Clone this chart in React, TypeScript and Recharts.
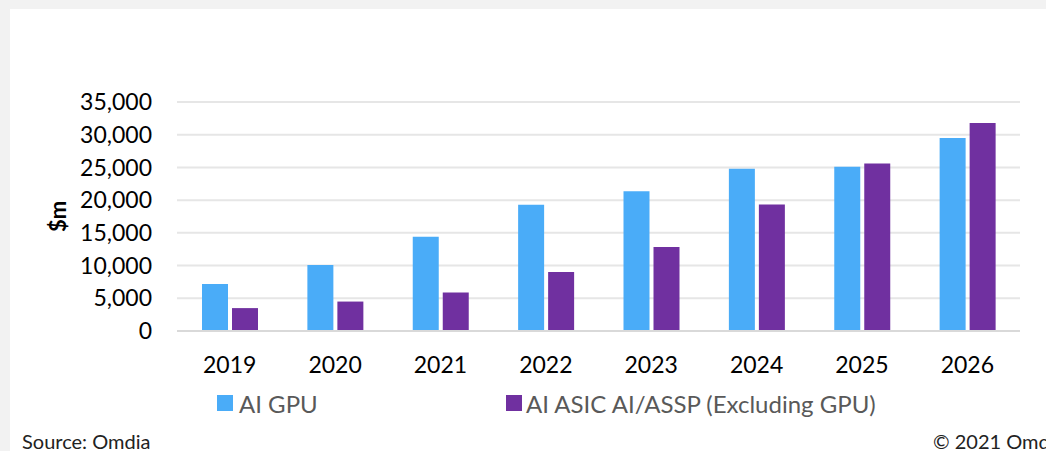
import { BarChart, Bar, XAxis, YAxis, CartesianGrid } from 'recharts'

const years = ['2019', '2020', '2021', '2022', '2023', '2024', '2025', '2026']
const aiGpu = [7200, 10100, 14400, 19300, 21350, 24800, 25100, 29500]
const aiAsic = [3500, 4500, 5900, 9000, 12850, 19350, 25600, 31800]
const yTicks = [0, 5000, 10000, 15000, 20000, 25000, 30000, 35000]
const seriesNames = ['AI GPU', 'AI ASIC AI/ASSP (Excluding GPU)']
const seriesColors = ['#4aacf8', '#7030a0']

const data = years.map((y, i) => ({ year: y, gpu: aiGpu[i], asic: aiAsic[i] }))

const font = 'Lato, "Open Sans", sans-serif'

const YLabel = (props: any) => {
  const vb = props.viewBox
  const cx = vb.x - 43
  const cy = vb.y + vb.height / 2
  return (
    <text x={cx} y={cy} transform={`rotate(-90 ${cx} ${cy})`} textAnchor='middle' dominantBaseline='central'
      style={{ fontFamily: font, fontSize: 22, fontWeight: 700, fill: '#000' }}>
      $m
    </text>
  )
}

const App = () => (
  <div style={{ position: 'fixed', left: 0, top: 0, width: 1046, height: 451, background: '#f2f2f2', overflow: 'hidden', fontFamily: font }}>
    <div style={{ position: 'absolute', left: 10, top: 9, width: 1100, height: 500, background: '#fff' }} />
    <div style={{ position: 'absolute', left: 0, top: 0 }}>
      <BarChart width={1046} height={451} data={data} margin={{ top: 102, right: 26, left: 100, bottom: 80 }}
        barSize={26} barGap={4}>
        <CartesianGrid vertical={false} stroke='#e6e6e6' strokeWidth={2} />
        <XAxis dataKey='year' height={40} tickLine={false} axisLine={{ stroke: '#d9d9d9', strokeWidth: 2 }}
          tickSize={0} tickMargin={26} tick={{ fontSize: 23, fill: '#000', fontFamily: font }} />
        <YAxis width={77} domain={[0, 35000]} ticks={yTicks} interval={0} tickLine={false} axisLine={false}
          tickSize={0} tickMargin={25} tick={{ fontSize: 23, fill: '#000', fontFamily: font }}
          tickFormatter={(v: number) => v.toLocaleString('en-US')} label={<YLabel />} />
        <Bar dataKey='gpu' name={seriesNames[0]} fill={seriesColors[0]} isAnimationActive={false} />
        <Bar dataKey='asic' name={seriesNames[1]} fill={seriesColors[1]} isAnimationActive={false} />
      </BarChart>
    </div>
    {/* legend */}
    {seriesNames.map((n, i) => (
      <div key={n} style={{ position: 'absolute', left: i === 0 ? 217 : 506, top: 389, height: 28, display: 'flex', alignItems: 'center', whiteSpace: 'nowrap' }}>
        <span style={{ display: 'inline-block', width: 16, height: 16, background: seriesColors[i], marginRight: i === 0 ? 6 : 4 }} />
        <span style={{ fontSize: 24, color: '#595959' }}>{n}</span>
      </div>
    ))}
    <div style={{ position: 'absolute', left: 22, top: 429, fontSize: 20, color: '#222', whiteSpace: 'nowrap' }}>Source: Omdia</div>
    <div style={{ position: 'absolute', left: 933, top: 429, fontSize: 20, color: '#222', whiteSpace: 'nowrap' }}>© 2021 Omdia</div>
  </div>
)

export default App
